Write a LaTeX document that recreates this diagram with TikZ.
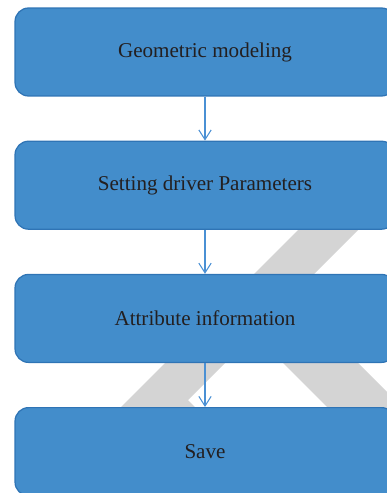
\documentclass[tikz,border=0pt]{standalone}
\usepackage{fontspec}
\setmainfont{Liberation Serif}
\usepackage{tikz}
\usetikzlibrary{arrows.meta,positioning}

\definecolor{boxfill}{HTML}{438DCB}
\definecolor{boxline}{HTML}{2F74B5}
\definecolor{flowline}{HTML}{4A90D4}
\definecolor{marktext}{HTML}{231F20}
\definecolor{markgrey}{HTML}{D4D4D4}

\begin{document}
\begin{tikzpicture}[x=0.02cm, y=-0.02cm, node distance=0.88cm, auto,
        >={Straight Barb[length=5.5pt,width=7pt]},
        stepbox/.style={draw=boxline, fill=boxfill, line width=0.7pt, rectangle,
            rounded corners=0.27cm, minimum width=7.6cm, minimum height=1.76cm,
            text=marktext, font=\fontsize{12}{14}\selectfont},
        flow/.style={->, draw=flowline, line width=0.6pt}]
        \useasboundingbox (0,0) rectangle (386,493);

        % Watermark behind the boxes
        \fill[markgrey] (328,200) -- (388,200) -- (188,400) -- (200,412) -- (116,412) -- cycle;
        \fill[markgrey] (220,300) -- (295,300) -- (405,410) -- (330,410) -- cycle;

        % Nodes
        \node (geo_model) [stepbox] at (205,52) {Geometric modeling};
        \node (set_param) [stepbox, below=of geo_model] {Setting driver Parameters};
        \node (attr_info) [stepbox, below=of set_param] {Attribute information};
        \node (save) [stepbox, below=of attr_info] {Save};

        % Flow
        \draw[flow] (geo_model.south) -- (set_param.north);
        \draw[flow] (set_param.south) -- (attr_info.north);
        \draw[flow] (attr_info.south) -- (save.north);
    \end{tikzpicture}
\end{document}
